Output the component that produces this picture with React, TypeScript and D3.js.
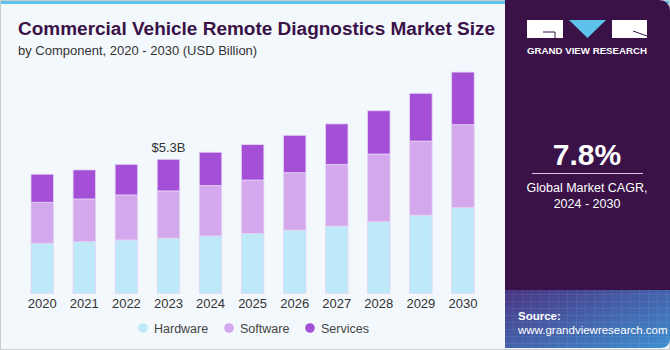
import React from 'react';
import * as d3 from 'd3';

const years = ['2020', '2021', '2022', '2023', '2024', '2025', '2026', '2027', '2028', '2029', '2030'];
const hardware = [1.98, 2.04, 2.11, 2.18, 2.27, 2.37, 2.5, 2.66, 2.83, 3.09, 3.39];
const software = [1.62, 1.69, 1.78, 1.87, 1.99, 2.11, 2.27, 2.44, 2.68, 2.93, 3.28];
const services = [1.11, 1.15, 1.21, 1.25, 1.32, 1.4, 1.48, 1.6, 1.71, 1.89, 2.08];
const seriesNames = ['Hardware', 'Software', 'Services'];
const seriesColors = ['#bde9f8', '#d4a8ec', '#a44fd6'];
const calloutYear = '2023';
const calloutText = '$5.3B';

const W = 670;
const H = 350;
const font = "'Liberation Sans', Arial, sans-serif";

const App = () => {
  const rows = years.map((y, i) => ({ year: y, Hardware: hardware[i], Software: software[i], Services: services[i] }));
  const stack = d3.stack<any>().keys(seriesNames)(rows);

  const x = d3.scaleBand().domain(years).range([31, 474.2]).paddingInner(0.465).paddingOuter(0);
  const y = d3.scaleLinear().domain([0, 5.3]).range([293.3, 159.3]);

  const callIdx = years.indexOf(calloutYear);
  const callTop = y(stack[2][callIdx][1]);

  const legendX = [143, 229, 310];

  return (
    <div style={{ position: 'absolute', left: 0, top: 0 }}>
      <svg width={W} height={H} style={{ display: 'block' }}>
        <defs>
          <linearGradient id="srcGrad" x1="0" y1="0" x2="1" y2="1">
            <stop offset="0" stopColor="#4a3584" />
            <stop offset="1" stopColor="#3e8fd0" />
          </linearGradient>
          <pattern id="grid" width="9" height="7" patternUnits="userSpaceOnUse">
            <path d="M0 0H9M0 0V7" stroke="#ffffff" strokeOpacity="0.12" strokeWidth="1" fill="none" />
          </pattern>
        </defs>
        <rect x={0} y={0} width={W} height={H} fill="#f3f8fc" />
        <rect x={0} y={0} width={W} height={4} fill="#5ec3ec" />
        <rect x={0.5} y={0.5} width={W - 1} height={H - 1} fill="none" stroke="#c8ccd0" />

        {/* right panel */}
        <path d={`M505 0 H${W - 12} Q${W} 0 ${W} 12 V290 H505 Z`} fill="#3a1248" />
        <path d={`M505 290 H${W} V${H - 12} Q${W} ${H - 2} ${W - 10} ${H - 2} H505 Z`} fill="url(#srcGrad)" />
        <path d={`M505 290 H${W} V${H - 2} H505 Z`} fill="url(#grid)" />

        {/* logo */}
        <rect x={527} y={20} width={36} height={18} fill="#ffffff" />
        <path d="M543 32 H555 V38" stroke="#3a1248" strokeWidth={1} fill="none" />
        <path d="M569 20 H606 L587.5 38 Z" fill="#5ec3ec" />
        <rect x={612} y={20} width={35} height={18} fill="#ffffff" />
        <path d="M633 31 L647 36" stroke="#3a1248" strokeWidth={1} fill="none" />
        <text x={587} y={54} textAnchor="middle" fontFamily={font} fontWeight={700} fontSize={8.6} fill="#ffffff" textLength={120} lengthAdjust="spacingAndGlyphs">GRAND VIEW RESEARCH</text>

        {/* CAGR */}
        <text x={587} y={165} textAnchor="middle" fontFamily={font} fontWeight={700} fontSize={30} fill="#ffffff">7.8%</text>
        <line x1={532} x2={643} y1={173.5} y2={173.5} stroke="#d8c8e0" strokeWidth={1} />
        <text x={587} y={192} textAnchor="middle" fontFamily={font} fontSize={12.5} fill="#ffffff">Global Market CAGR,</text>
        <text x={587} y={208} textAnchor="middle" fontFamily={font} fontSize={12.5} fill="#ffffff">2024 - 2030</text>

        <text x={518} y={320} fontFamily={font} fontWeight={700} fontSize={11.5} fill="#ffffff">Source:</text>
        <text x={518} y={334} fontFamily={font} fontSize={11.5} fill="#ffffff">www.grandviewresearch.com</text>

        {/* title */}
        <text x={18} y={35} fontFamily={font} fontWeight={700} fontSize={18} fill="#3a1248" textLength={477} lengthAdjust="spacingAndGlyphs">Commercial Vehicle Remote Diagnostics Market Size</text>
        <text x={18} y={55} fontFamily={font} fontSize={13} fill="#333333">by Component, 2020 - 2030 (USD Billion)</text>

        {/* bars */}
        {stack.map((s, si) => (
          <g key={s.key}>
            {s.map((d, i) => (
              <rect
                key={years[i]}
                x={x(years[i])!}
                y={y(d[1])}
                width={x.bandwidth()}
                height={y(d[0]) - y(d[1])}
                fill={seriesColors[si]}
                stroke="#e4d4f4"
                strokeWidth={0.8}
              />
            ))}
          </g>
        ))}

        <text x={x(calloutYear)! + x.bandwidth() / 2} y={callTop - 7} textAnchor="middle" fontFamily={font} fontSize={13} fill="#333333">{calloutText}</text>

        {years.map((yr) => (
          <text key={yr} x={x(yr)! + x.bandwidth() / 2} y={307.5} textAnchor="middle" fontFamily={font} fontSize={13} fill="#333333">{yr}</text>
        ))}

        {/* legend */}
        {seriesNames.map((n, i) => (
          <g key={n}>
            <circle cx={legendX[i]} cy={328} r={4.8} fill={seriesColors[i]} />
            <text x={legendX[i] + 11} y={332.5} fontFamily={font} fontSize={12.5} fill="#444444">{n}</text>
          </g>
        ))}
      </svg>
    </div>
  );
};

export default App;
